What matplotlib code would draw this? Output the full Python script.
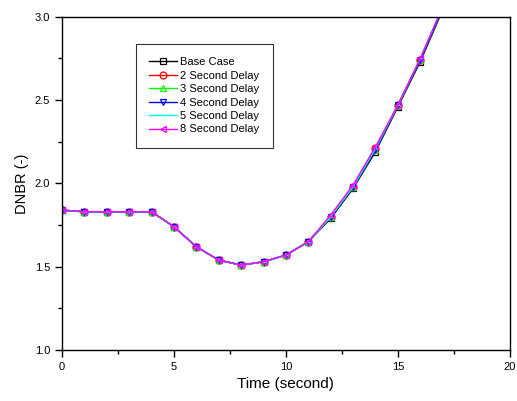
import matplotlib.pyplot as plt
from matplotlib.ticker import MultipleLocator

plt.rcParams['font.family'] = ['Liberation Sans', 'DejaVu Sans']

time = [0, 1, 2, 3, 4, 5, 6, 7, 8, 9, 10, 11, 12, 13, 14, 15, 16, 17]
base_case = [1.84, 1.83, 1.83, 1.83, 1.83, 1.74, 1.62, 1.54, 1.51, 1.53, 1.57, 1.65, 1.79, 1.97, 2.19, 2.46, 2.73, 3.04]
delay_2 = [1.84, 1.83, 1.83, 1.83, 1.83, 1.74, 1.62, 1.54, 1.51, 1.53, 1.57, 1.65, 1.80, 1.98, 2.21, 2.47, 2.74, 3.05]
delay_3 = [1.84, 1.83, 1.83, 1.83, 1.83, 1.74, 1.62, 1.54, 1.51, 1.53, 1.57, 1.65, 1.80, 1.98, 2.20, 2.47, 2.74, 3.05]
delay_4 = [1.84, 1.83, 1.83, 1.83, 1.83, 1.74, 1.62, 1.54, 1.51, 1.53, 1.57, 1.65, 1.80, 1.98, 2.20, 2.47, 2.74, 3.05]
delay_5 = [1.84, 1.83, 1.83, 1.83, 1.83, 1.74, 1.62, 1.54, 1.51, 1.53, 1.57, 1.65, 1.80, 1.98, 2.21, 2.47, 2.75, 3.06]
delay_8 = [1.84, 1.83, 1.83, 1.83, 1.83, 1.74, 1.62, 1.54, 1.51, 1.53, 1.57, 1.65, 1.81, 1.99, 2.22, 2.47, 2.75, 3.06]

labels = ["Base Case", "2 Second Delay", "3 Second Delay", "4 Second Delay", "5 Second Delay", "8 Second Delay"]
colors = ["black", "red", "#00ff00", "#0000ff", "cyan", "magenta"]
markers = ["s", "o", "^", "v", "_", "<"]
series = [base_case, delay_2, delay_3, delay_4, delay_5, delay_8]

fig = plt.figure(figsize=(5.17, 4.01), dpi=100)
ax = fig.add_axes([0.12, 0.127, 0.866, 0.831])

for y, lab, c, m in zip(series, labels, colors, markers):
    ax.plot(time, y, color=c, marker=m, markersize=5, markerfacecolor="none",
            markeredgecolor=c, markeredgewidth=0.9, linewidth=1.0, label=lab)

ax.set_xlim(0, 20)
ax.set_ylim(1.0, 3.0)
ax.xaxis.set_major_locator(MultipleLocator(5))
ax.xaxis.set_minor_locator(MultipleLocator(2.5))
ax.yaxis.set_major_locator(MultipleLocator(0.5))
ax.yaxis.set_minor_locator(MultipleLocator(0.25))
ax.yaxis.set_major_formatter(plt.FormatStrFormatter("%.1f"))
ax.tick_params(which="major", direction="out", length=5, width=1, labelsize=8)
ax.tick_params(which="minor", direction="out", length=3, width=1)
for s in ax.spines.values():
    s.set_linewidth(1.0)

ax.set_xlabel("Time (second)", fontsize=11)
ax.set_ylabel("DNBR (-)", fontsize=10.5)

leg = ax.legend(loc="upper left", bbox_to_anchor=(0.165, 0.919), borderaxespad=0,
                fontsize=8, frameon=True, fancybox=False, edgecolor="black",
                handlelength=2.5, labelspacing=0.31, borderpad=1.2, handletextpad=0.3)
leg.get_frame().set_linewidth(0.8)

fig.savefig("out.png", dpi=100)
